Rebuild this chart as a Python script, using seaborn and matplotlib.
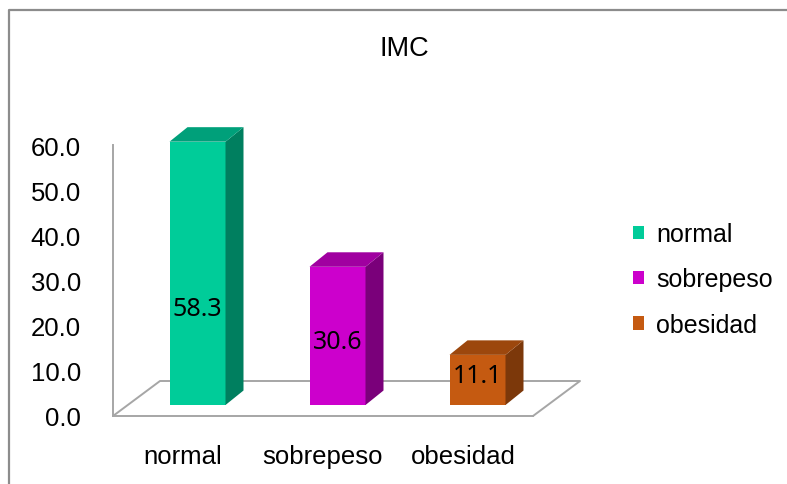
import matplotlib
matplotlib.use("Agg")
import matplotlib.pyplot as plt
from matplotlib.lines import Line2D
from matplotlib.patches import Patch, Polygon
import seaborn as sns
import pandas as pd

# --- data -------------------------------------------------------------
categories = ["normal", "sobrepeso", "obesidad"]
values = [58.3, 30.6, 11.1]
y_ticks = [0, 10, 20, 30, 40, 50, 60]
title = "IMC"

# --- styling ----------------------------------------------------------
front_colors = ["#00CC99", "#CC00CC", "#C55A11"]
top_colors = ["#00A07A", "#A000A0", "#9C470D"]
side_colors = ["#007F5F", "#7A007A", "#7C380A"]
label_frac = [0.365, 0.46, 0.58]   # label height within each bar
GRAY = "#A6A6A6"

sns.set_style("white")
plt.rcParams["font.family"] = ["Liberation Sans", "DejaVu Sans"]
plt.rcParams["text.color"] = "black"
plt.rcParams["xtick.labelcolor"] = "black"
plt.rcParams["ytick.labelcolor"] = "black"

fig = plt.figure(figsize=(7.87, 4.85), dpi=100)
W, H = 787, 485
ax = fig.add_axes([113 / W, 68 / H, 420 / W, 271 / H])

df = pd.DataFrame({"imc": categories, "pct": values})
sns.barplot(data=df, x="imc", y="pct", hue="imc", palette=front_colors,
            saturation=1, width=0.4, legend=False, ax=ax)
ax.set_xlim(-0.5, 2.5)
ax.set_ylim(0, 60)

# pixel -> data conversion for the oblique 3-D look
ppx = ax.bbox.width / 3.0
ppy = ax.bbox.height / 60.0
FDX, FDY = 47 / ppx, 35 / ppy          # floor depth
BX, BY = 14.5 / ppx, 11 / ppy          # bar front offset on the floor
BDX, BDY = 18 / ppx, 14.5 / ppy        # bar depth

# floor outline (front edge is the bottom spine)
ax.plot([-0.5, -0.5 + FDX, 2.5 + FDX, 2.5], [0, FDY, FDY, 0],
        color=GRAY, lw=1.4, clip_on=False, zorder=1)

for p, v, tc, sc, fr in zip(ax.patches, values, top_colors, side_colors, label_frac):
    x0 = p.get_x() + BX
    w = p.get_width()
    p.set_x(x0)
    p.set_y(BY)
    p.set_edgecolor("none")
    p.set_zorder(3)
    p.set_clip_on(False)
    x1 = x0 + w
    top = BY + v
    ax.add_patch(Polygon([(x1, BY), (x1, top), (x1 + BDX, top + BDY), (x1 + BDX, BY + BDY)],
                         closed=True, facecolor=sc, edgecolor="none", zorder=3, clip_on=False))
    ax.add_patch(Polygon([(x0, top), (x1, top), (x1 + BDX, top + BDY), (x0 + BDX, top + BDY)],
                         closed=True, facecolor=tc, edgecolor="none", zorder=3, clip_on=False))
    ax.text(x0 + w / 2, BY + fr * v, f"{v:.1f}", ha="center", va="center",
            fontsize=18, family=["Noto Sans", "DejaVu Sans"], color="black", zorder=5)

# axes styling
for s in ["top", "right"]:
    ax.spines[s].set_visible(False)
for s in ["left", "bottom"]:
    ax.spines[s].set_color(GRAY)
    ax.spines[s].set_linewidth(1.4)
    ax.spines[s].set_zorder(1)

ax.set_yticks(y_ticks)
ax.set_yticklabels([f"{t:.1f}" for t in y_ticks])
ax.tick_params(axis="y", length=6, width=1.4, color=GRAY, pad=17, labelsize=18.5)
ax.set_xticks(range(len(categories)))
ax.set_xticklabels(categories)
ax.set_xticks([-0.5, 0.5, 1.5, 2.5], minor=True)
ax.tick_params(axis="x", which="major", length=0, pad=20, labelsize=18.5)
ax.tick_params(axis="x", which="minor", length=8, width=1.4, color=GRAY)
ax.set_xlabel("")
ax.set_ylabel("")

fig.text(404 / W, 1 - 49 / H, title, ha="center", va="center", fontsize=19.5)

handles = [Patch(facecolor=c, edgecolor="none", label=cat)
           for c, cat in zip(front_colors, categories)]
fig.legend(handles=handles, loc="center left", bbox_to_anchor=(633 / W, 1 - 280.5 / H),
           frameon=False, fontsize=18, handlelength=0.42, handleheight=0.45,
           handletextpad=0.5, labelspacing=0.85, borderpad=0, borderaxespad=0)

# outer frame
fig.add_artist(Line2D([8.5 / W, 8.5 / W, 1], [0, 1 - 10.5 / H, 1 - 10.5 / H],
                      transform=fig.transFigure, color="#8C8C8C", lw=1.6))

fig.savefig("out.png", dpi=100)
